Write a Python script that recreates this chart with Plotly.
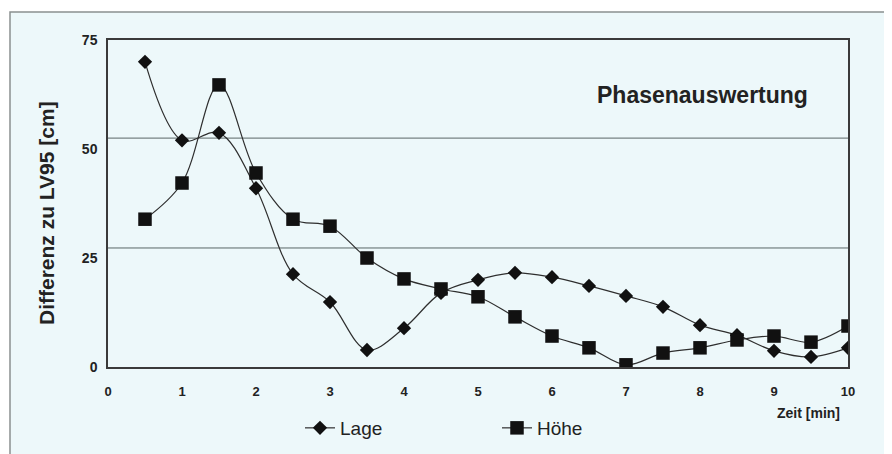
import plotly.graph_objects as go

# ---- data ----
zeit = [0.5, 1, 1.5, 2, 2.5, 3, 3.5, 4, 4.5, 5, 5.5, 6, 6.5, 7, 7.5, 8, 8.5, 9, 9.5, 10]
lage = [70.0, 52.0, 53.7, 41.0, 21.3, 14.9, 3.9, 8.9, 17.0, 20.0, 21.6, 20.6, 18.6, 16.3, 13.8, 9.6, 7.3, 3.7, 2.3, 4.4]
hoehe = [33.9, 42.2, 64.7, 44.5, 33.9, 32.3, 25.0, 20.2, 17.9, 16.1, 11.5, 7.1, 4.4, 0.5, 3.2, 4.4, 6.2, 7.1, 5.7, 9.4]
x_ticks = [0, 1, 2, 3, 4, 5, 6, 7, 8, 9, 10]
y_ticks = [0, 25, 50, 75]
grid_levels = [52.5, 27.3]  # horizontal rule lines as printed

BG = "#edf8fa"
FONT = "Liberation Sans, Arial, sans-serif"

fig = go.Figure()
fig.add_trace(go.Scatter(
    x=zeit, y=lage, name="Lage", mode="lines+markers",
    line=dict(color="#2e2e2e", width=1.2, shape="spline"),
    marker=dict(symbol="diamond", size=11, color="#111111"),
))
fig.add_trace(go.Scatter(
    x=zeit, y=hoehe, name="Höhe", mode="lines+markers",
    line=dict(color="#2e2e2e", width=1.2, shape="spline"),
    marker=dict(symbol="square", size=13.5, color="#111111"),
))

# page pixel positions (reference) -> paper fractions relative to plot area (108..848, 40..367)
def px(xp):
    return (xp - 108) / 740

def py(yp):
    return (367 - yp) / 327

shapes = [
    dict(type="rect", xref="paper", yref="paper",
         x0=px(10), x1=px(900), y0=py(470), y1=py(12),
         line=dict(color="#8a9090", width=1.5), fillcolor=BG, layer="below"),
]
for g in grid_levels:
    shapes.append(dict(type="line", xref="x", yref="y", x0=0, x1=10, y0=g, y1=g,
                       line=dict(color="#5a6666", width=1), layer="below"))

fig.update_layout(
    width=884, height=446,
    margin=dict(l=100, r=44, t=32, b=87, autoexpand=False),
    paper_bgcolor="white",
    plot_bgcolor="rgba(0,0,0,0)",
    font=dict(family=FONT, color="#222222"),
    shapes=shapes,
    xaxis=dict(range=[0, 10], tickvals=x_ticks, showgrid=False, zeroline=False,
               showline=True, mirror=True, linecolor="#3a3a3a", linewidth=1.5,
               ticks="", ticklabelstandoff=12, automargin=False,
               tickfont=dict(size=13, family=FONT, color="#222222", weight="bold")),
    yaxis=dict(range=[0, 75], tickvals=y_ticks, showgrid=False, zeroline=False,
               showline=True, mirror=True, linecolor="#3a3a3a", linewidth=1.5,
               ticks="", ticklabelstandoff=6, automargin=False,
               tickfont=dict(size=14, family=FONT, color="#222222", weight="bold")),
    legend=dict(orientation="h", x=px(300), y=py(428),
                xanchor="left", yanchor="middle", entrywidth=152, entrywidthmode="pixels",
                bgcolor="rgba(0,0,0,0)", font=dict(size=19, family=FONT, color="#222222")),
    annotations=[
        dict(text="<b>Differenz zu LV95 [cm]</b>", xref="paper", yref="paper",
             x=px(46), y=py(213), xanchor="center", yanchor="middle", textangle=-90,
             showarrow=False, font=dict(size=21, family=FONT, color="#222222")),
        dict(text="<b>Phasenauswertung</b>", xref="paper", yref="paper",
             x=px(702), y=py(95), xanchor="center", yanchor="middle",
             showarrow=False, font=dict(size=23, family=FONT, color="#222222")),
        dict(text="<b>Zeit [min]</b>", xref="paper", yref="paper",
             x=px(842), y=py(413), xanchor="right", yanchor="middle",
             showarrow=False, font=dict(size=14, family=FONT, color="#222222")),
    ],
)

fig.write_html("out.html")
